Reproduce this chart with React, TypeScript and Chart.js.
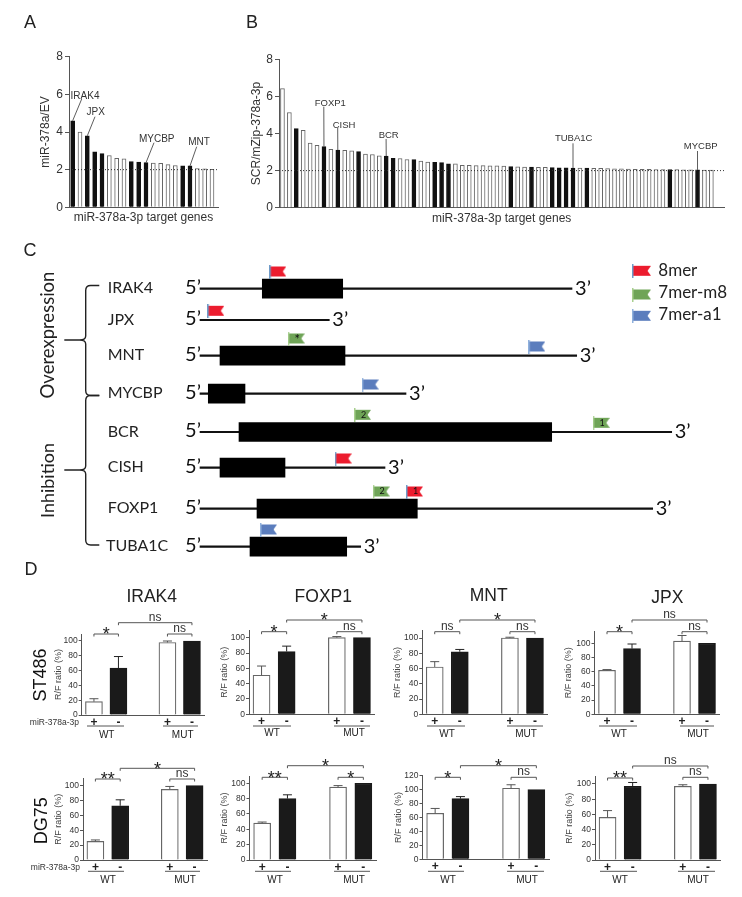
import React, { useEffect, useRef } from "react";
import { Chart, registerables } from "chart.js";

Chart.register(...registerables);
Chart.defaults.font.family = "'Liberation Sans', Arial, sans-serif";
Chart.defaults.color = "#333";

// ---------- Panel A data ----------
const valuesA = [4.6, 4.0, 3.8, 2.95, 2.85, 2.75, 2.6, 2.57, 2.43, 2.4, 2.37, 2.35, 2.33, 2.27, 2.22, 2.2, 2.2, 2.06, 2.05, 2.02];
const highlightedA = [0, 2, 3, 4, 8, 9, 10, 15, 16];
const calloutsA = [
  { gene: "IRAK4", bar: 0, endX: 81.7, endY: 99, textX: 85, textY: 96 },
  { gene: "JPX", bar: 2, endX: 95, endY: 116.7, textX: 95.7, textY: 112 },
  { gene: "MYCBP", bar: 10, endX: 154, endY: 142.7, textX: 156.7, textY: 139.3 },
  { gene: "MNT", bar: 16, endX: 196.7, endY: 146.7, textX: 199, textY: 142 },
];

// ---------- Panel B data ----------
const valuesB = [
  6.42, 5.13, 4.26, 4.17, 3.49, 3.36, 3.29, 3.15, 3.11, 3.09, 3.06, 3.02, 2.89, 2.87, 2.8, 2.78,
  2.66, 2.65, 2.6, 2.59, 2.51, 2.46, 2.44, 2.43, 2.37, 2.36, 2.29, 2.28, 2.27, 2.27, 2.26, 2.26,
  2.25, 2.21, 2.2, 2.19, 2.19, 2.17, 2.17, 2.16, 2.15, 2.15, 2.14, 2.13, 2.13, 2.12, 2.12, 2.11,
  2.09, 2.09, 2.08, 2.07, 2.07, 2.07, 2.06, 2.06, 2.05, 2.05, 2.04, 2.04, 2.04, 2.03, 2.03,
];
const highlightedB = [2, 6, 8, 11, 15, 16, 19, 22, 23, 24, 33, 36, 39, 40, 41, 42, 44, 56, 60];
const calloutsB = [
  { gene: "FOXP1", bar: 6, endX: 323.8, endY: 106.7, textX: 330.3, textY: 103.3 },
  { gene: "CISH", bar: 8, endX: 337.7, endY: 128, textX: 344, textY: 125.3 },
  { gene: "BCR", bar: 15, endX: 386.1, endY: 139, textX: 388.7, textY: 135.3 },
  { gene: "TUBA1C", bar: 42, endX: 573, endY: 143.3, textX: 573.7, textY: 138.3 },
  { gene: "MYCBP", bar: 60, endX: 697.5, endY: 151, textX: 700.7, textY: 146.7 },
];
const thresholdFoldChange = 2;

// ---------- Panel C data ----------
const geneNames = ["IRAK4", "JPX", "MNT", "MYCBP", "BCR", "CISH", "FOXP1", "TUBA1C"];
const geneRows = [288.7, 320, 355.7, 393.7, 432, 467.7, 508.7, 546.7];
const transcriptLength = [372, 129.3, 376.7, 206, 471.7, 185, 452.7, 160.7];
const cdsStart = [62.3, null, 20, 8.3, 39, 20, 57, 50];
const cdsEnd = [142.7, null, 145, 45, 351.7, 85, 217.3, 146.7];
const sites8mer = [
  { gene: 0, pos: 69.3, mark: "" },
  { gene: 1, pos: 7.3, mark: "" },
  { gene: 5, pos: 134.7, mark: "" },
  { gene: 6, pos: 206, mark: "1" },
];
const sites7merM8 = [
  { gene: 2, pos: 87.7, mark: "*" },
  { gene: 4, pos: 154, mark: "2" },
  { gene: 4, pos: 392.7, mark: "1" },
  { gene: 6, pos: 172.7, mark: "2" },
];
const sites7merA1 = [
  { gene: 2, pos: 328.3, mark: "" },
  { gene: 3, pos: 161.7, mark: "" },
  { gene: 7, pos: 60, mark: "" },
];
const siteTypes = ["8mer", "7mer-m8", "7mer-a1"];

// ---------- Panel D data ----------
const constructLabels = ["+", "-", "", "+", "-"];
const irak4St486 = [18, 63.5, null, 98, 100];
const irak4St486Err = [22, 79, null, 100, null];
const foxp1St486 = [51, 82, null, 100, 100];
const foxp1St486Err = [63, 89, null, 101.5, null];
const mntSt486 = [62, 82, null, 100, 100];
const mntSt486Err = [69, 85, null, 101, null];
const jpxSt486 = [62, 92.5, null, 103, 100];
const jpxSt486Err = [63, 99, null, 111, null];
const irak4Dg75 = [25, 73, null, 95, 100];
const irak4Dg75Err = [27, 81, null, 99, null];
const foxp1Dg75 = [48, 80, null, 95, 100];
const foxp1Dg75Err = [49.5, 85, null, 97, null];
const mntDg75 = [66, 87, null, 102, 100];
const mntDg75Err = [73, 90, null, 107, null];
const jpxDg75 = [56, 97, null, 97, 100];
const jpxDg75Err = [65, 102, null, 99, null];
const dashes = { sans: "'Liberation Sans', Arial, sans-serif", lato: "Lato, 'Open Sans', sans-serif" };

type TextItem = { t: string; x: number; y: number; font: string; color?: string; align?: CanvasTextAlign; rot?: number };
type Rect = { left: number; top: number; width: number; height: number };

function drawTexts(ctx: CanvasRenderingContext2D, items: TextItem[]) {
  for (const it of items) {
    ctx.save();
    ctx.translate(it.x, it.y);
    if (it.rot) ctx.rotate(it.rot);
    ctx.font = it.font;
    ctx.fillStyle = it.color || "#222";
    ctx.textAlign = it.align || "center";
    ctx.textBaseline = "middle";
    ctx.fillText(it.t, 0, 0);
    ctx.restore();
  }
}

function pagePlugin(id: string, rect: Rect, fn: (chart: any, ctx: CanvasRenderingContext2D) => void) {
  return {
    id,
    afterDatasetsDraw(chart: any) {
      const ctx = chart.ctx;
      ctx.save();
      ctx.translate(-rect.left, -rect.top);
      fn(chart, ctx);
      ctx.restore();
    },
  };
}

function ChartCanvas({ rect, make }: { rect: Rect; make: () => any }) {
  const ref = useRef<HTMLCanvasElement>(null);
  useEffect(() => {
    const chart = new Chart(ref.current as HTMLCanvasElement, make());
    return () => chart.destroy();
  }, []);
  return (
    <canvas
      ref={ref}
      width={rect.width}
      height={rect.height}
      style={{ position: "absolute", left: rect.left, top: rect.top, width: rect.width, height: rect.height, display: "block" }}
    />
  );
}

// ---------- Panels A and B ----------
function screenConfig(opts: {
  rect: Rect; values: number[]; black: number[]; callouts: any[]; yTitle: string;
  left: number; right: number; top: number; bottom: number; xMax: number; yTitleX: number; xTitleY: number; calloutFont: string; letter: TextItem;
}) {
  const { rect, values, black, callouts, left, right, top, bottom } = opts;
  const lh = 14.4;
  const yw = left - opts.yTitleX + lh / 2;
  const xh = opts.xTitleY - bottom + lh / 2;
  return {
    type: "bar",
    data: {
      datasets: [
        {
          type: "line", data: [{ x: -0.5, y: thresholdFoldChange }, { x: opts.xMax, y: thresholdFoldChange }],
          borderColor: "#333", borderWidth: 1, borderDash: [1, 2], pointRadius: 0, order: 0,
        },
        {
          type: "bar", data: values.map((v, i) => ({ x: i, y: v })),
          backgroundColor: values.map((_, i) => (black.includes(i) ? "#111" : "#fff")),
          borderColor: values.map((_, i) => (black.includes(i) ? "#111" : "#666")),
          borderWidth: 1, barThickness: 4, order: 1,
        },
      ],
    },
    options: {
      responsive: false, animation: false,
      layout: { autoPadding: false, padding: { left: left - rect.left - yw, right: rect.left + rect.width - right, top: top - rect.top, bottom: rect.top + rect.height - bottom - xh } },
      plugins: { legend: { display: false }, tooltip: { enabled: false } },
      scales: {
        x: {
          type: "linear", min: -0.5, max: opts.xMax, offset: false,
          afterFit: (s: any) => { s.height = xh; },
          grid: { display: false, drawTicks: false }, ticks: { display: false },
          border: { color: "#555", width: 1 },
          title: { display: true, text: "miR-378a-3p target genes", font: { size: 12 }, padding: 0, color: "#333" },
        },
        y: {
          min: 0, max: 8,
          afterFit: (s: any) => { s.width = yw; },
          grid: { drawOnChartArea: false, tickLength: 4, color: "#555" },
          border: { color: "#555", width: 1 },
          ticks: { stepSize: 2, font: { size: 12 }, padding: 2, color: "#333" },
          title: { display: true, text: opts.yTitle, font: { size: 12 }, padding: 0, color: "#333" },
        },
      },
    },
    plugins: [
      pagePlugin("annot", rect, (chart, ctx) => {
        const sx = chart.scales.x, sy = chart.scales.y;
        ctx.strokeStyle = "#333";
        ctx.lineWidth = 0.8;
        const dy = rect.top, dx = rect.left;
        for (const c of callouts) {
          ctx.beginPath();
          ctx.moveTo(sx.getPixelForValue(c.bar) + dx, sy.getPixelForValue(values[c.bar]) + dy);
          ctx.lineTo(c.endX, c.endY);
          ctx.stroke();
        }
        drawTexts(ctx, callouts.map((c) => ({ t: c.gene, x: c.textX, y: c.textY, font: opts.calloutFont, color: "#333" })));
        drawTexts(ctx, [opts.letter]);
      }),
    ],
  };
}

// ---------- Panel C ----------
function makeFlag(w: number, h: number, pole: string, body: string) {
  const c = document.createElement("canvas");
  c.width = w;
  c.height = h;
  const g = c.getContext("2d") as CanvasRenderingContext2D;
  g.fillStyle = body;
  g.beginPath();
  g.moveTo(1, 2);
  g.lineTo(w, 2);
  g.lineTo(w - 3.5, h / 2);
  g.lineTo(w, h - 2);
  g.lineTo(1, h - 2);
  g.closePath();
  g.fill();
  g.fillStyle = pole;
  g.fillRect(0, 0, 1.5, h);
  return c;
}

const rectC: Rect = { left: 0, top: 235, width: 742, height: 345 };

function configC() {
  const FW = 17, LW = 19, FH = 14;
  const flagRed = makeFlag(FW, FH, "#6f9bc8", "#ec1c2e");
  const flagGreen = makeFlag(FW, FH, "#a8cf8e", "#6fa457");
  const flagBlue = makeFlag(FW, FH, "#8fb0dc", "#5b7dbd");
  const legendFlags = [
    makeFlag(LW, FH, "#6f9bc8", "#ec1c2e"),
    makeFlag(LW, FH, "#a8cf8e", "#6fa457"),
    makeFlag(LW, FH, "#8fb0dc", "#5b7dbd"),
  ];
  const legendRows = [271, 294.7, 316];
  const legendTextRows = [270.7, 292.7, 315];
  const inCds = (s: any) => cdsStart[s.gene] !== null && s.pos >= (cdsStart[s.gene] as number) - 10 && s.pos <= (cdsEnd[s.gene] as number);
  const pt = (s: any) => ({ x: s.pos + FW / 2, y: geneRows[s.gene] - (inCds(s) ? 17.2 : 9.2) });
  const scatter = (label: string, sites: any[], img: any) => ({
    type: "scatter", label, data: sites.map(pt), pointStyle: img, pointRadius: 6, order: 0,
  });
  const lato = (s: number) => `${s}px ${dashes.lato}`;
  return {
    type: "bar",
    data: {
      datasets: [
        {
          type: "bar", label: "CDS", grouped: false, barThickness: 19, backgroundColor: "#000", order: 1,
          data: geneRows.map((y, i) => ({ y, x: [cdsStart[i], cdsEnd[i]] })).filter((d) => d.x[0] !== null),
        },
        {
          type: "bar", label: "transcript", grouped: false, barThickness: 1.5, backgroundColor: "#111", order: 2,
          data: geneRows.map((y, i) => ({ y, x: [0, transcriptLength[i]] })),
        },
        scatter(siteTypes[0], sites8mer, flagRed),
        scatter(siteTypes[1], sites7merM8, flagGreen),
        scatter(siteTypes[2], sites7merA1, flagBlue),
        ...siteTypes.map((t, i) => ({
          type: "scatter", label: t + " key", data: [{ x: 441.5, y: legendRows[i] - 0.2 }], pointStyle: legendFlags[i], pointRadius: 6, order: 0,
        })),
      ],
    },
    options: {
      indexAxis: "y", responsive: false, animation: false,
      layout: { autoPadding: false, padding: 0 },
      plugins: { legend: { display: false }, tooltip: { enabled: false } },
      scales: {
        x: { type: "linear", min: -200, max: 542, display: false },
        y: { type: "linear", min: 235, max: 580, reverse: true, display: false, offset: false },
      },
    },
    plugins: [
      pagePlugin("annotC", rectC, (chart, ctx) => {
        const sx = chart.scales.x, sy = chart.scales.y;
        const items: TextItem[] = [];
        geneNames.forEach((g, i) => {
          const y = sy.getPixelForValue(geneRows[i]) + rectC.top;
          items.push({ t: g, x: i === 7 ? 106 : 107.7, y: y - 0.5, font: lato(16), align: "left", color: "#222" });
          items.push({ t: "5\u2019", x: 193, y: y - 1, font: lato(20), color: "#111" });
          items.push({ t: "3\u2019", x: sx.getPixelForValue(transcriptLength[i]) + 11, y: y - 0.5, font: lato(20), color: "#111" });
        });
        for (const s of [...sites8mer, ...sites7merM8, ...sites7merA1]) {
          if (!s.mark) continue;
          const p = pt(s);
          items.push({ t: s.mark, x: sx.getPixelForValue(p.x) + 1, y: sy.getPixelForValue(p.y) + rectC.top + (s.mark === "*" ? 1.5 : 0), font: lato(s.mark === "*" ? 13 : 9), color: "#111" });
        }
        siteTypes.forEach((t, i) => items.push({ t, x: 658.3, y: legendTextRows[i], font: lato(17), align: "left", color: "#222" }));
        items.push({ t: "Overexpression", x: 47.7, y: 335, font: lato(18.5), rot: -Math.PI / 2 });
        items.push({ t: "Inhibition", x: 47.7, y: 480.5, font: lato(18), rot: -Math.PI / 2 });
        items.push({ t: "C", x: 30, y: 251, font: `18px ${dashes.sans}` });
        items.push({ t: "D", x: 31, y: 570, font: `18px ${dashes.sans}` });
        drawTexts(ctx, items);
        const brace = (yTop: number, yTip: number, yBot: number) => {
          const x = 85.7, end = 99.3, tip = 64.3;
          ctx.strokeStyle = "#222";
          ctx.lineWidth = 1.4;
          ctx.beginPath();
          ctx.moveTo(end, yTop);
          ctx.lineTo(x + 5, yTop);
          ctx.quadraticCurveTo(x, yTop, x, yTop + 5);
          ctx.lineTo(x, yTip - 4);
          ctx.quadraticCurveTo(x, yTip, x - 6, yTip);
          ctx.lineTo(tip, yTip);
          ctx.moveTo(x - 6, yTip);
          ctx.quadraticCurveTo(x, yTip, x, yTip + 4);
          ctx.lineTo(x, yBot - 5);
          ctx.quadraticCurveTo(x, yBot, x + 5, yBot);
          ctx.lineTo(end, yBot);
          ctx.stroke();
        };
        brace(285.5, 340, 395.5);
        brace(395.5, 470, 545);
      }),
    ],
  };
}

// ---------- Panel D ----------
type Bracket = { from: number; to: number; y: number; label: string };
type Assay = {
  gene: string; values: (number | null)[]; errs: (number | null)[]; rect: Rect; yMax?: number;
  left: number; right: number; y0: number; yRefPx: number; yRef: number; top: number; step: number;
  yTitleX: number; title?: { x: number; y: number }; rowLabel?: { t: string; x: number; y: number };
  mirLabel?: { x: number; y: number }; tickRow: number; underY: number; wtY: number;
  wtLine: [number, number]; mutLine: [number, number]; wtX: number; mutX: number; brackets: Bracket[];
};

const colLefts = [0, 212, 385, 557, 742];
const rowTops = [580, 748, 897];
const cellRect = (c: number, r: number): Rect => ({ left: colLefts[c], top: rowTops[r], width: colLefts[c + 1] - colLefts[c], height: rowTops[r + 1] - rowTops[r] });

const assays: Assay[] = [
  {
    gene: "IRAK4", values: irak4St486, errs: irak4St486Err, rect: cellRect(0, 0),
    left: 81.7, right: 204.2, y0: 715, yRefPx: 641, yRef: 100, top: 634, step: 20, yTitleX: 58.3, tickRow: 721.7, underY: 726, wtY: 735,
    title: { x: 151.7, y: 596.7 }, rowLabel: { t: "ST486", x: 40.7, y: 675 }, mirLabel: { x: 79, y: 722.3 },
    wtLine: [87, 124], mutLine: [163, 198], wtX: 106.7, mutX: 182.7,
    brackets: [{ from: 0, to: 1, y: 634, label: "*" }, { from: 1, to: 4, y: 622.7, label: "ns" }, { from: 3, to: 4, y: 634, label: "ns" }],
  },
  {
    gene: "FOXP1", values: foxp1St486, errs: foxp1St486Err, rect: cellRect(1, 0),
    left: 249, right: 374.5, y0: 714.3, yRefPx: 637.7, yRef: 100, top: 630, step: 20, yTitleX: 224.3, tickRow: 721.7, underY: 726, wtY: 733.5,
    title: { x: 323.3, y: 596.7 },
    wtLine: [253, 291], mutLine: [334, 370], wtX: 272, mutX: 354,
    brackets: [{ from: 0, to: 1, y: 631.7, label: "*" }, { from: 1, to: 4, y: 620, label: "*" }, { from: 3, to: 4, y: 631.7, label: "ns" }],
  },
  {
    gene: "MNT", values: mntSt486, errs: mntSt486Err, rect: cellRect(2, 0),
    left: 422.2, right: 547.5, y0: 714.3, yRefPx: 638, yRef: 100, top: 630.7, step: 20, yTitleX: 397.3, tickRow: 721.7, underY: 726, wtY: 734,
    title: { x: 488.7, y: 596 },
    wtLine: [427, 465], mutLine: [507, 543], wtX: 447, mutX: 526,
    brackets: [{ from: 0, to: 1, y: 631.7, label: "ns" }, { from: 1, to: 4, y: 620, label: "*" }, { from: 3, to: 4, y: 631.7, label: "ns" }],
  },
  {
    gene: "JPX", values: jpxSt486, errs: jpxSt486Err, rect: cellRect(3, 0),
    left: 594.5, right: 719.5, y0: 714.3, yRefPx: 643.3, yRef: 100, top: 631, step: 20, yTitleX: 569, tickRow: 721.7, underY: 726, wtY: 734,
    title: { x: 667.3, y: 597.7 },
    wtLine: [599, 637], mutLine: [680, 714], wtX: 619, mutX: 698,
    brackets: [{ from: 0, to: 1, y: 631.7, label: "*" }, { from: 1, to: 4, y: 620, label: "ns" }, { from: 3, to: 4, y: 631.7, label: "ns" }],
  },
  {
    gene: "IRAK4", values: irak4Dg75, errs: irak4Dg75Err, rect: cellRect(0, 1),
    left: 83, right: 207, y0: 860, yRefPx: 785.7, yRef: 100, top: 778.3, step: 20, yTitleX: 59, tickRow: 866, underY: 871.3, wtY: 880.3,
    rowLabel: { t: "DG75", x: 41.7, y: 820.7 }, mirLabel: { x: 80, y: 867.7 },
    wtLine: [88, 124], mutLine: [165, 200], wtX: 108, mutX: 185,
    brackets: [{ from: 0, to: 1, y: 779, label: "**" }, { from: 1, to: 4, y: 768.3, label: "*" }, { from: 3, to: 4, y: 779, label: "ns" }],
  },
  {
    gene: "FOXP1", values: foxp1Dg75, errs: foxp1Dg75Err, rect: cellRect(1, 1),
    left: 249.5, right: 376, y0: 860, yRefPx: 783.3, yRef: 100, top: 776, step: 20, yTitleX: 225, tickRow: 866, underY: 871.3, wtY: 880.3,
    wtLine: [255, 291], mutLine: [334, 370], wtX: 275, mutX: 354,
    brackets: [{ from: 0, to: 1, y: 777.3, label: "**" }, { from: 1, to: 4, y: 765.7, label: "*" }, { from: 3, to: 4, y: 777.3, label: "*" }],
  },
  {
    gene: "MNT", values: mntDg75, errs: mntDg75Err, rect: cellRect(2, 1), yMax: 120,
    left: 422.5, right: 549, y0: 859.3, yRefPx: 789.7, yRef: 100, top: 775.7, step: 20, yTitleX: 398.3, tickRow: 866, underY: 871.3, wtY: 880.3,
    wtLine: [428, 464], mutLine: [507, 544], wtX: 448, mutX: 527,
    brackets: [{ from: 0, to: 1, y: 777.3, label: "*" }, { from: 1, to: 4, y: 765.7, label: "*" }, { from: 3, to: 4, y: 777.3, label: "ns" }],
  },
  {
    gene: "JPX", values: jpxDg75, errs: jpxDg75Err, rect: cellRect(3, 1),
    left: 595, right: 720.5, y0: 860, yRefPx: 784, yRef: 100, top: 776.7, step: 20, yTitleX: 570, tickRow: 866, underY: 871.3, wtY: 880.3,
    wtLine: [600, 637], mutLine: [678, 715], wtX: 620, mutX: 698,
    brackets: [{ from: 0, to: 1, y: 778, label: "**" }, { from: 1, to: 4, y: 766, label: "ns" }, { from: 3, to: 4, y: 777.3, label: "ns" }],
  },
];

function assayConfig(a: Assay) {
  const { rect } = a;
  const lh = 10.8;
  const yw = a.left - a.yTitleX + lh / 2;
  const xh = 28;
  const yMax = a.yMax ?? ((a.y0 - a.top) / (a.y0 - a.yRefPx)) * a.yRef;
  const isBlack = (i: number) => i === 1 || i === 4;
  return {
    type: "bar",
    data: {
      labels: constructLabels,
      datasets: [
        {
          label: a.gene, data: a.values, barThickness: 17,
          backgroundColor: constructLabels.map((_, i) => (isBlack(i) ? "#1a1a1a" : "#fff")),
          borderColor: constructLabels.map((_, i) => (isBlack(i) ? "#1a1a1a" : "#666")),
          borderWidth: 1.2,
        },
      ],
    },
    options: {
      responsive: false, animation: false,
      layout: { autoPadding: false, padding: { left: a.left - rect.left - yw, right: rect.left + rect.width - a.right, top: a.top - rect.top, bottom: rect.top + rect.height - a.y0 - xh } },
      plugins: { legend: { display: false }, tooltip: { enabled: false } },
      scales: {
        x: {
          afterFit: (s: any) => { s.height = xh; },
          grid: { display: false, drawTicks: false },
          border: { color: "#555", width: 1 },
          ticks: { font: { size: 12, weight: "bold" }, padding: 0, color: "#222", autoSkip: false, maxRotation: 0 },
        },
        y: {
          min: 0, max: yMax,
          afterFit: (s: any) => { s.width = yw; },
          grid: { drawOnChartArea: false, tickLength: 3, color: "#555" },
          border: { color: "#555", width: 1 },
          ticks: { stepSize: a.step, includeBounds: false, font: { size: 8.5 }, padding: 1, color: "#333" },
          title: { display: true, text: "R/F ratio (%)", font: { size: 9 }, padding: 0, color: "#444" },
        },
      },
    },
    plugins: [
      pagePlugin("annotD", rect, (chart, ctx) => {
        const sx = chart.scales.x, sy = chart.scales.y;
        const dx = rect.left, dy = rect.top;
        ctx.lineWidth = 1;
        a.errs.forEach((e, i) => {
          if (e === null) return;
          const x = sx.getPixelForValue(i) + dx;
          const y1 = sy.getPixelForValue(a.values[i] as number) + dy;
          const y2 = sy.getPixelForValue(e) + dy;
          ctx.strokeStyle = isBlack(i) ? "#222" : "#555";
          ctx.beginPath();
          ctx.moveTo(x, y1);
          ctx.lineTo(x, y2);
          ctx.moveTo(x - 4.5, y2);
          ctx.lineTo(x + 4.5, y2);
          ctx.stroke();
        });
        const items: TextItem[] = [];
        ctx.strokeStyle = "#555";
        for (const b of a.brackets) {
          const x1 = sx.getPixelForValue(b.from) + dx;
          const x2 = sx.getPixelForValue(b.to) + dx;
          ctx.beginPath();
          ctx.moveTo(x1, b.y + 2.5);
          ctx.lineTo(x1, b.y);
          ctx.lineTo(x2, b.y);
          ctx.lineTo(x2, b.y + 2.5);
          ctx.stroke();
          const star = b.label !== "ns";
          items.push({ t: b.label, x: (x1 + x2) / 2, y: star ? b.y + 1.5 : b.y - 5.5, font: `${star ? 18 : 12}px ${dashes.sans}`, color: star ? "#222" : "#333" });
        }
        for (const seg of [a.wtLine, a.mutLine]) {
          ctx.beginPath();
          ctx.moveTo(seg[0], a.underY);
          ctx.lineTo(seg[1], a.underY);
          ctx.stroke();
        }
        items.push({ t: "WT", x: a.wtX, y: a.wtY, font: `10px ${dashes.sans}` });
        items.push({ t: "MUT", x: a.mutX, y: a.wtY, font: `10px ${dashes.sans}` });
        if (a.title) items.push({ t: a.gene, x: a.title.x, y: a.title.y, font: `17.5px ${dashes.sans}`, color: "#222" });
        if (a.rowLabel) items.push({ t: a.rowLabel.t, x: a.rowLabel.x, y: a.rowLabel.y, font: `18px ${dashes.sans}`, color: "#111", rot: -Math.PI / 2 });
        if (a.mirLabel) items.push({ t: "miR-378a-3p", x: a.mirLabel.x, y: a.mirLabel.y, font: `8.5px ${dashes.sans}`, align: "right", color: "#333" });
        drawTexts(ctx, items);
      }),
    ],
  };
}

const rectA: Rect = { left: 0, top: 0, width: 240, height: 235 };
const rectB: Rect = { left: 240, top: 0, width: 502, height: 235 };

export default function App() {
  return (
    <div style={{ position: "absolute", left: 0, top: 0, width: 742, height: 897, background: "#fff", overflow: "hidden" }}>
      <ChartCanvas
        rect={rectA}
        make={() =>
          screenConfig({
            rect: rectA, values: valuesA, black: highlightedA, callouts: calloutsA, yTitle: "miR-378a/EV",
            left: 69, right: 218, top: 56.7, bottom: 207.3, xMax: 19.82, yTitleX: 46, xTitleY: 218, calloutFont: `10px ${dashes.sans}`,
            letter: { t: "A", x: 30, y: 23, font: `18px ${dashes.sans}` },
          })
        }
      />
      <ChartCanvas
        rect={rectB}
        make={() =>
          screenConfig({
            rect: rectB, values: valuesB, black: highlightedB, callouts: calloutsB, yTitle: "SCR/mZip-378a-3p",
            left: 279, right: 724.3, top: 59.3, bottom: 207.7, xMax: 63.87, yTitleX: 256.7, xTitleY: 218.3, calloutFont: `9.5px ${dashes.sans}`,
            letter: { t: "B", x: 252, y: 23, font: `18px ${dashes.sans}` },
          })
        }
      />
      <ChartCanvas rect={rectC} make={configC} />
      {assays.map((a) => (
        <ChartCanvas key={a.gene + a.rect.top} rect={a.rect} make={() => assayConfig(a)} />
      ))}
    </div>
  );
}
